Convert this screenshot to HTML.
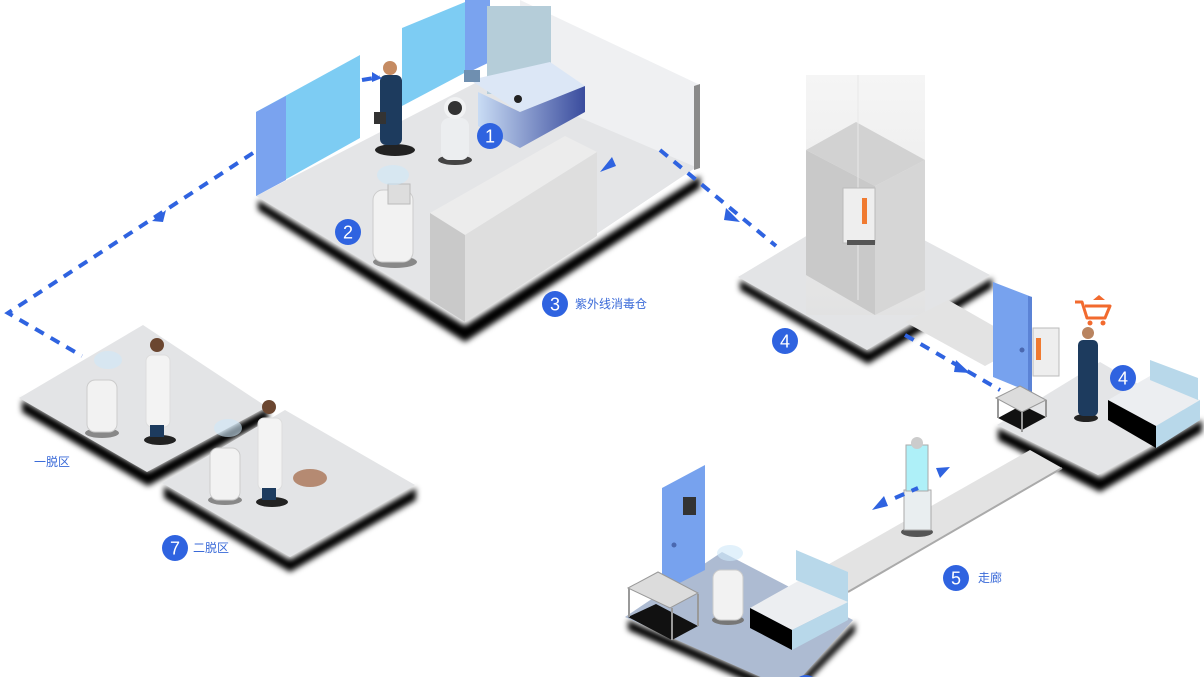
<!DOCTYPE html>
<html><head><meta charset="utf-8"><style>
html,body{margin:0;padding:0;background:#fff;width:1204px;height:677px;overflow:hidden}
svg{display:block}
text{font-family:"Liberation Sans","Noto Sans CJK SC",sans-serif}
</style></head><body>
<svg width="1204" height="677" viewBox="0 0 1204 677" xmlns="http://www.w3.org/2000/svg">
<defs>
<filter id="bl" x="-10%" y="-10%" width="120%" height="120%"><feGaussianBlur stdDeviation="3"/></filter>
<linearGradient id="desk" x1="0" x2="1"><stop offset="0" stop-color="#c9dcf4"/><stop offset="1" stop-color="#3a4c9e"/></linearGradient>
<linearGradient id="glass" x1="0" y1="0" x2="0" y2="1"><stop offset="0" stop-color="#f4f4f4"/><stop offset="1" stop-color="#e2e2e2"/></linearGradient>
</defs>

<polygon points="258,210 465,342 700,188 700,176 465,326 258,200" fill="#000" filter="url(#bl)"/>
<polygon points="256,196 520,60 698,166 465,322" fill="#e4e5e7"/>
<polygon points="520,0 698,84 698,168 520,92" fill="#eff0f2"/>
<polygon points="694,86 700,84 700,168 694,170" fill="#8a8a8a"/>
<polygon points="256,112 360,55 360,138 256,196" fill="#7dccf3"/>
<polygon points="256,112 286,96 286,180 256,196" fill="#7aa3ef"/>
<polygon points="402,28 470,0 470,70 402,106" fill="#7dccf3"/>
<polygon points="465,0 490,0 490,62 465,74" fill="#7aa3ef"/>
<rect x="487" y="6" width="64" height="88" fill="#b5cdd9"/>
<polygon points="470,80 550,62 585,86 520,112" fill="#dce7f6"/>
<polygon points="478,92 520,112 585,86 585,112 520,148 478,126" fill="url(#desk)"/>
<circle cx="518" cy="99" r="4" fill="#222"/>
<polygon points="430,213 565,136 597,152 465,235" fill="#ececec"/>
<polygon points="430,213 465,235 465,322 430,300" fill="#c9c9c9"/>
<polygon points="465,235 597,152 597,236 465,322" fill="#dedede"/>
<ellipse cx="395" cy="150" rx="20" ry="6" fill="#222"/>
<rect x="380" y="75" width="22" height="70" rx="6" fill="#1d3b5e"/>
<circle cx="390" cy="68" r="7" fill="#c58b62"/>
<rect x="374" y="112" width="12" height="12" fill="#333"/>
<ellipse cx="455" cy="160" rx="17" ry="5" fill="#444"/>
<rect x="441" y="118" width="28" height="42" rx="8" fill="#eceef0"/>
<circle cx="455" cy="108" r="11" fill="#f1f2f3"/><circle cx="455" cy="108" r="7" fill="#333"/>
<rect x="464" y="70" width="16" height="12" fill="#6f8fb0"/>
<ellipse cx="395" cy="262" rx="22" ry="6" fill="#888"/>
<rect x="373" y="190" width="40" height="72" rx="10" fill="#f2f2f2" stroke="#ccc"/>
<rect x="388" y="184" width="22" height="20" fill="#ddd" stroke="#bbb"/>
<ellipse cx="393" cy="175" rx="16" ry="10" fill="#cfe8f8" opacity=".6"/>

<polygon points="740,290 868,364 992,288 992,278 868,352 740,280" fill="#000" filter="url(#bl)"/>
<polygon points="738,277 858,205 990,275 867,350" fill="#e3e4e6"/>
<rect x="806" y="75" width="119" height="240" fill="url(#glass)" opacity=".9"/>
<polygon points="806,150 875,186 875,315 806,275" fill="#c9c9c9"/>
<polygon points="875,186 925,160 925,290 875,315" fill="#d6d6d6"/>
<polygon points="806,150 856,122 925,160 875,186" fill="#d2d2d2"/>
<line x1="858" y1="75" x2="858" y2="300" stroke="#e8e8e8"/>
<rect x="843" y="188" width="32" height="55" fill="#eeeeee" stroke="#bbb"/>
<rect x="862" y="198" width="5" height="26" fill="#f07a30"/>
<rect x="847" y="240" width="28" height="5" fill="#555"/>

<polygon points="905,322 948,300 1025,344 985,366" fill="#e3e3e3"/>

<polygon points="998,440 1100,492 1202,432 1202,420 1100,478 998,428" fill="#000" filter="url(#bl)"/>
<polygon points="997,425 1100,362 1200,420 1098,475" fill="#e4e5e7"/>
<polygon points="993,282 1032,297 1032,393 993,377" fill="#77a2ee"/>
<polygon points="1028,296 1032,297 1032,393 1028,391" fill="#5b83d6"/>
<circle cx="1022" cy="350" r="2.5" fill="#4a68b0"/>
<rect x="1033" y="328" width="26" height="48" fill="#eee" stroke="#bbb"/>
<rect x="1036" y="338" width="5" height="22" fill="#f07a30"/>
<!-- cart -->
<g stroke="#f26a2e" stroke-width="3" fill="none" stroke-linejoin="round">
<path d="M1075,302 h7 l5,16 h18 l5,-12 h-25"/>
</g>
<circle cx="1090" cy="323" r="2.5" fill="#f26a2e"/><circle cx="1103" cy="323" r="2.5" fill="#f26a2e"/>
<polygon points="1093,300 1099,295 1105,300" fill="#f26a2e"/>
<ellipse cx="1086" cy="418" rx="12" ry="4" fill="#222"/>
<rect x="1078" y="340" width="20" height="76" rx="5" fill="#1d3b5e"/>
<circle cx="1088" cy="333" r="6" fill="#b98460"/>
<polygon points="998,418 1022,430 1046,417 1022,405" fill="#111"/>
<g stroke="#999" stroke-width="2"><line x1="998" y1="398" x2="998" y2="418"/><line x1="1022" y1="412" x2="1022" y2="432"/><line x1="1046" y1="400" x2="1046" y2="417"/></g>
<polygon points="996,398 1020,386 1046,400 1022,412" fill="#dcdcdc" stroke="#999"/>
<polygon points="1108,400 1150,376 1200,400 1156,426" fill="#eceef1"/>
<polygon points="1108,400 1156,426 1156,448 1108,420" fill="#000"/>
<polygon points="1156,426 1200,400 1200,420 1156,448" fill="#b8d8ea"/>
<polygon points="1150,360 1198,378 1198,400 1150,380" fill="#b8d8ea"/>

<polygon points="1030,450 1062,468 848,592 815,572" fill="#e3e3e3"/>
<line x1="1062" y1="468" x2="848" y2="592" stroke="#aaa" stroke-width="2"/>
<ellipse cx="917" cy="532" rx="16" ry="5" fill="#555"/>
<rect x="904" y="490" width="27" height="40" fill="#e9eef0" stroke="#aaa"/>
<rect x="906" y="445" width="22" height="46" fill="#aef0f8" stroke="#aaa"/>
<circle cx="917" cy="443" r="6" fill="#ccc"/>

<polygon points="628,630 790,700 855,632 855,622 790,690 628,620" fill="#000" filter="url(#bl)"/>
<polygon points="625,617 722,552 853,620 790,690" fill="#adbbd2"/>
<polygon points="662,488 705,465 705,570 662,592" fill="#77a2ee"/>
<rect x="683" y="497" width="13" height="18" fill="#333"/>
<circle cx="674" cy="545" r="2.5" fill="#4a68b0"/>
<polygon points="628,617 672,640 698,626 656,604" fill="#111"/>
<g stroke="#999" stroke-width="2"><line x1="629" y1="588" x2="629" y2="617"/><line x1="672" y1="608" x2="672" y2="640"/><line x1="698" y1="594" x2="698" y2="626"/></g>
<polygon points="628,588 658,572 698,593 670,608" fill="#dcdcdc" stroke="#999"/>
<ellipse cx="728" cy="620" rx="16" ry="5" fill="#777"/>
<rect x="713" y="570" width="30" height="50" rx="8" fill="#f2f2f2" stroke="#ccc"/>
<ellipse cx="730" cy="553" rx="13" ry="8" fill="#cfe8f8" opacity=".6"/>
<polygon points="750,608 800,580 848,602 792,630" fill="#eceef1"/>
<polygon points="750,608 792,630 792,650 750,628" fill="#000"/>
<polygon points="792,630 848,602 848,620 792,650" fill="#b8d8ea"/>
<polygon points="796,550 848,572 848,602 796,580" fill="#b8d8ea"/>

<polygon points="22,412 148,486 268,420 268,408 148,472 22,400" fill="#000" filter="url(#bl)"/>
<polygon points="19,398 143,325 267,407 147,472" fill="#e3e4e6"/>
<polygon points="164,498 290,572 416,500 416,488 290,560 164,486" fill="#000" filter="url(#bl)"/>
<polygon points="162,483 285,410 415,485 290,557" fill="#e3e4e6"/>
<ellipse cx="102" cy="433" rx="17" ry="5" fill="#888"/>
<rect x="87" y="380" width="30" height="52" rx="8" fill="#f2f2f2" stroke="#ccc"/>
<ellipse cx="108" cy="360" rx="14" ry="9" fill="#cfe8f8" opacity=".6"/>
<ellipse cx="160" cy="440" rx="16" ry="5" fill="#222"/>
<rect x="146" y="355" width="24" height="72" rx="6" fill="#f3f3f3" stroke="#ddd"/>
<rect x="150" y="425" width="14" height="12" fill="#1d3b5e"/>
<circle cx="157" cy="345" r="7" fill="#6b4630"/>
<ellipse cx="225" cy="500" rx="17" ry="5" fill="#888"/>
<rect x="210" y="448" width="30" height="52" rx="8" fill="#f2f2f2" stroke="#ccc"/>
<ellipse cx="228" cy="428" rx="14" ry="9" fill="#cfe8f8" opacity=".6"/>
<ellipse cx="272" cy="502" rx="16" ry="5" fill="#222"/>
<rect x="258" y="418" width="24" height="72" rx="6" fill="#f3f3f3" stroke="#ddd"/>
<rect x="262" y="488" width="14" height="12" fill="#1d3b5e"/>
<circle cx="269" cy="407" r="7" fill="#6b4630"/>
<ellipse cx="310" cy="478" rx="17" ry="9" fill="#b58a72"/>

<g stroke="#2f63e0" stroke-width="4" stroke-dasharray="10,8" fill="none">
<polyline points="253,153 8,313 82,356"/>
<line x1="660" y1="150" x2="776" y2="246"/>
<line x1="905" y1="335" x2="1000" y2="390"/>
<line x1="362" y1="80" x2="380" y2="77"/>
<line x1="895" y1="498" x2="918" y2="488"/>
</g>
<g fill="#2f63e0">
<polygon points="152,221 166,210 163,222"/>
<polygon points="600,172 612,157 616,166"/>
<polygon points="740,222 726,208 724,220"/>
<polygon points="970,373 956,360 954,372"/>
<polygon points="872,510 884,496 888,506"/>
<polygon points="950,467 936,468 940,478"/>
<polygon points="372,72 382,78 372,82"/>
</g>

<g font-size="18" fill="#fff" text-anchor="middle">
<circle cx="490" cy="136" r="13" fill="#2f63e0"/><text x="490" y="142.5">1</text>
<circle cx="348" cy="232" r="13" fill="#2f63e0"/><text x="348" y="238.5">2</text>
<circle cx="555" cy="304" r="13" fill="#2f63e0"/><text x="555" y="310.5">3</text>
<circle cx="785" cy="341" r="13" fill="#2f63e0"/><text x="785" y="347.5">4</text>
<circle cx="1123" cy="378" r="13" fill="#2f63e0"/><text x="1123" y="384.5">4</text>
<circle cx="956" cy="578" r="13" fill="#2f63e0"/><text x="956" y="584.5">5</text>
<circle cx="175" cy="548" r="13" fill="#2f63e0"/><text x="175" y="554.5">7</text>
<circle cx="806" cy="688" r="13" fill="#2f63e0"/>
</g>
<g font-size="12" fill="#3a6ad8">
<text x="575" y="308">紫外线消毒仓</text>
<text x="978" y="582">走廊</text>
<text x="193" y="552">二脱区</text>
<text x="34" y="466">一脱区</text>
</g>
</svg>
</body></html>
